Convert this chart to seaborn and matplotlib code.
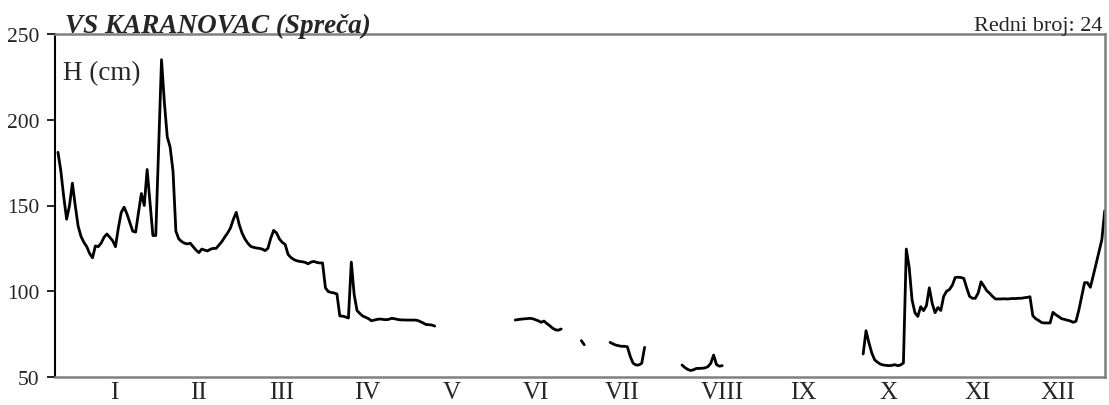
import numpy as np
import pandas as pd
import matplotlib
matplotlib.use("Agg")
import matplotlib.pyplot as plt
import seaborn as sns

# ---- data (daily water level H, cm); gaps = missing observations ----
seg1_start = 1
seg1 = [181, 170, 155, 142, 150, 163, 150, 138, 132, 128.5,
        126, 122, 119.5, 126.4, 126, 128, 131.5, 133.4, 131.5, 129.5,
        126, 137, 146, 149, 145, 140, 135, 134.5, 146, 157,
        150, 171, 152, 132.5, 132.5, 183, 235, 210, 190, 184,
        170, 135, 130.5, 129, 128, 127.6, 128, 126, 124, 122.5,
        124.6, 124, 123.5, 124.5, 125, 125, 127, 129, 131.6, 134,
        137, 142, 146, 139, 134, 130.5, 128, 126.2, 125.6, 125.2,
        125, 124.6, 123.7, 125, 131, 135.5, 134, 130.5, 128.5, 127.3,
        121.5, 119.7, 118.5, 117.8, 117.4, 117.2, 116.8, 116, 117, 117.4,
        116.8, 116.5, 116.5, 102, 99.8, 99.3, 99, 98.4, 85.6, 85.5,
        85, 84.4, 117, 98, 88.7, 87, 85.5, 84.8, 84, 82.8,
        83.2, 83.6, 83.8, 83.6, 83.4, 83.6, 84.2, 84, 83.6, 83.3,
        83.3, 83.2, 83.2, 83.2, 83.2, 83, 82.3, 81.5, 80.6, 80.5,
        80.3, 79.7]
seg2_start = 160
seg2 = [83.2, 83.5, 83.7, 83.9, 84.0, 84.2, 84.0, 83.4, 82.8, 81.9,
        82.6, 81.2, 79.9, 78.5, 77.5, 77.3, 78.0]
seg3_start = 183
seg3 = [71.2, 68.8]
seg4_start = 193
seg4 = [70.2, 69.3, 68.6, 68.2, 67.9, 67.9, 67.6, 62, 58, 57,
        57, 58, 67.3]
seg5_start = 218
seg5 = [57, 55.5, 54.4, 53.8, 54.2, 55, 55, 55.1, 55.3, 56,
        58, 62.8, 57.2, 56.3, 56.6]
seg6_start = 281
seg6 = [63.4, 77, 70, 64, 60, 58.6, 57.5, 57, 56.8, 56.6,
        56.8, 57.2, 56.6, 57, 58.2, 124.6, 114, 95, 87.5, 85.3,
        91, 88.7, 91.6, 102, 93, 87.5, 90.5, 88.8, 97, 100,
        101, 103.5, 108, 108.2, 108, 107.5, 102, 97, 95.9, 95.9,
        99, 105.5, 103, 100.3, 98.8, 97, 95.5, 95.5, 95.5, 95.6,
        95.5, 95.6, 95.8, 95.7, 95.9, 95.9, 96.2, 96.4, 96.8, 85.7,
        84, 83, 81.8, 81.5, 81.5, 81.5, 87.7, 86.3, 85.2, 84,
        83.6, 83.1, 82.7, 81.9, 82.5, 89, 97, 105, 105, 102.3,
        109, 116, 123, 130, 147]

month_labels = ["I", "II", "III", "IV", "V", "VI", "VII", "VIII", "IX", "X", "XI", "XII"]
y_ticks = [50, 100, 150, 200, 250]
title_text = "VS KARANOVAC (Spreča)"
number_text = "Redni broj: 24"
unit_text = "H (cm)"

# ---- build long table ----
frames = []
for i, (start, vals) in enumerate([(seg1_start, seg1), (seg2_start, seg2), (seg3_start, seg3),
                                   (seg4_start, seg4), (seg5_start, seg5), (seg6_start, seg6)]):
    frames.append(pd.DataFrame({"day": np.arange(start, start + len(vals)),
                                "H": vals, "seg": i}))
df = pd.concat(frames, ignore_index=True)

sns.set_theme(style="white")
plt.rcParams["font.family"] = ["Liberation Serif", "DejaVu Serif"]

W, H = 1109, 406
fig = plt.figure(figsize=(W / 100, H / 100), dpi=100)
ax = fig.add_axes([55 / W, 1 - 378 / H, (1105 - 55) / W, (378 - 35) / H])

sns.lineplot(data=df, x="day", y="H", units="seg", estimator=None,
             color="black", linewidth=2.0, ax=ax, legend=False)

ax.set_xlim(-0.04, 365.1)
ax.set_ylim(50, 250)
ax.set_yticks(y_ticks)
ax.set_yticklabels([str(v) for v in y_ticks], fontsize=15.5)
ax.set_xticks([])
ax.set_xlabel("")
ax.set_ylabel("")
ax.tick_params(axis="y", which="both", left=True, length=6, width=1.2,
               color="black", pad=5, direction="out")

for side in ["top", "right", "bottom"]:
    ax.spines[side].set_color("#808080")
    ax.spines[side].set_linewidth(1.8)
ax.spines["left"].set_color("black")
ax.spines["left"].set_linewidth(1.5)

# month labels (positions in axes fraction)
label_px = [114, 198, 282, 367, 452, 536, 622, 722, 803, 888, 978, 1058]
for lab, px in zip(month_labels, label_px):
    ax.text((px - 55) / 1050, -0.012, lab, transform=ax.transAxes,
            ha="center", va="top", fontsize=18)

ax.text(8 / 1050, (378 - 61) / 343, unit_text, transform=ax.transAxes, ha="left",
        va="top", fontsize=19.5)

fig.text(65 / W, 1 - 33 / H, title_text, ha="left", va="baseline",
         fontsize=19.5, fontweight="bold", fontstyle="italic")
fig.text(1102 / W, 1 - 31 / H, number_text, ha="right", va="baseline",
         fontsize=16)

fig.savefig("out.png", dpi=100)
